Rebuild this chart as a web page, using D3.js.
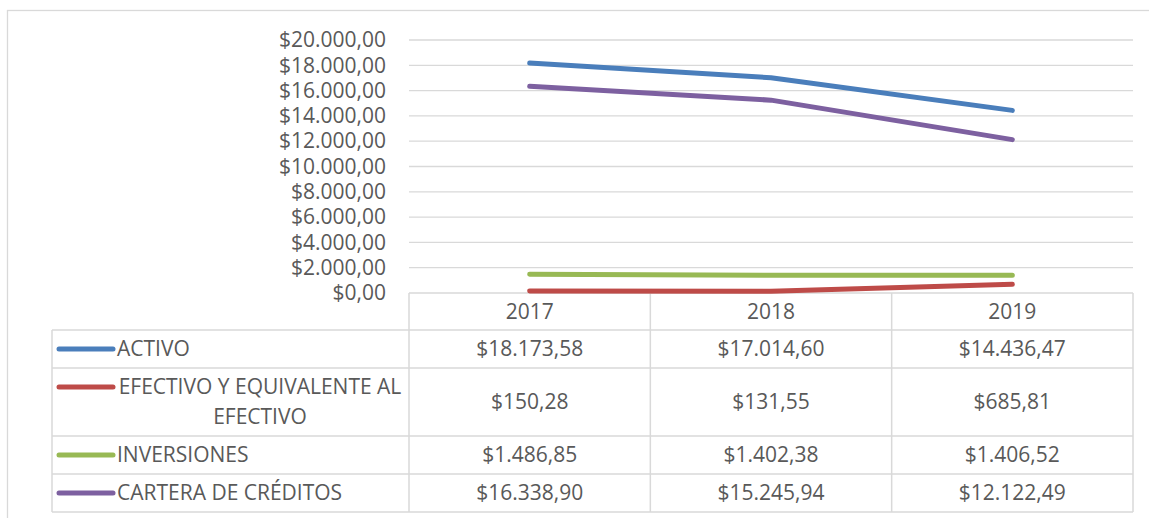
<!DOCTYPE html>
<html>
<head>
<meta charset="utf-8">
<script src="https://cdn.jsdelivr.net/npm/d3@7"></script>
<style>
  body { margin: 0; background: #fff; }
  svg { display: block; }
</style>
</head>
<body>
<div id="chart"></div>
<script>
const years = ['2017', '2018', '2019'];
const seriesNames = ['ACTIVO', 'EFECTIVO Y EQUIVALENTE AL EFECTIVO', 'INVERSIONES', 'CARTERA DE CRÉDITOS'];
const activo = [18173.58, 17014.60, 14436.47];
const efectivo = [150.28, 131.55, 685.81];
const inversiones = [1486.85, 1402.38, 1406.52];
const cartera = [16338.90, 15245.94, 12122.49];
const yTicks = [0, 2000, 4000, 6000, 8000, 10000, 12000, 14000, 16000, 18000, 20000];
const colors = ['#4a7ebb', '#be4b48', '#98b954', '#7d60a0'];

const data = seriesNames.map((name, i) => ({
  name,
  values: [activo, efectivo, inversiones, cartera][i]
}));

const W = 1149, H = 518;
const plot = { left: 409, right: 1133, top: 40, bottom: 293 };
const tableLeft = 52;
const rowBottoms = [330, 368, 436, 474, 512];
const font = '"Open Sans", sans-serif';
const fontSize = 21;
const textColor = '#595959';
const gridColor = '#d9d9d9';

// formats like 18.173,58
const locale = d3.formatLocale({ decimal: ',', thousands: '.', grouping: [3], currency: ['$', ''] });
const money = locale.format('$,.2f');

const svg = d3.select('#chart').append('svg')
  .attr('width', W)
  .attr('height', H);

// outer frame (cut by the picture edge on the right and bottom)
svg.append('rect')
  .attr('x', 7.5).attr('y', 10.5)
  .attr('width', W + 20).attr('height', H + 20)
  .attr('fill', 'none')
  .attr('stroke', gridColor)
  .attr('stroke-width', 1.3);

const x = d3.scaleBand()
  .domain(years)
  .range([plot.left, plot.right])
  .padding(0);

const y = d3.scaleLinear()
  .domain([0, 20000])
  .range([plot.bottom, plot.top]);

const yAxis = d3.axisLeft(y)
  .tickValues(yTicks)
  .tickSize(0)
  .tickPadding(23)
  .tickFormat(money);

svg.append('g')
  .attr('transform', `translate(${plot.left},0)`)
  .call(yAxis)
  .call(g => g.select('.domain').remove())
  .call(g => g.selectAll('text')
    .attr('fill', textColor)
    .attr('font-family', font)
    .attr('font-size', fontSize));

// gridlines
svg.append('g')
  .selectAll('line')
  .data(yTicks.filter(d => d > 0))
  .join('line')
  .attr('x1', plot.left)
  .attr('x2', plot.right)
  .attr('y1', d => y(d))
  .attr('y2', d => y(d))
  .attr('stroke', gridColor)
  .attr('stroke-width', 1.3);

// data table
const table = svg.append('g');
const rowTops = [plot.bottom].concat(rowBottoms.slice(0, -1));

table.selectAll('.hline')
  .data([plot.bottom].concat(rowBottoms))
  .join('line')
  .attr('x1', (d, i) => i === 0 ? plot.left : tableLeft)
  .attr('x2', plot.right)
  .attr('y1', d => d)
  .attr('y2', d => d)
  .attr('stroke', gridColor)
  .attr('stroke-width', 1.5);

table.selectAll('.vline')
  .data([tableLeft].concat(years.map(d => x(d)), [plot.right]))
  .join('line')
  .attr('x1', d => d)
  .attr('x2', d => d)
  .attr('y1', d => d === tableLeft ? rowBottoms[0] : plot.bottom)
  .attr('y2', rowBottoms[rowBottoms.length - 1])
  .attr('stroke', gridColor)
  .attr('stroke-width', 1.5);

table.selectAll('.year')
  .data(years)
  .join('text')
  .attr('x', d => x(d) + x.bandwidth() / 2)
  .attr('y', (rowTops[0] + rowBottoms[0]) / 2)
  .attr('dy', '0.35em')
  .attr('text-anchor', 'middle')
  .attr('fill', textColor)
  .attr('font-family', font)
  .attr('font-size', fontSize)
  .text(d => d);

const lineGap = 30;
const rows = table.selectAll('.row')
  .data(data)
  .join('g')
  .attr('transform', (d, i) => `translate(0,${(rowTops[i + 1] + rowBottoms[i + 1]) / 2})`);

rows.each(function(d, i) {
  const lines = d.name.length > 25 ? ['EFECTIVO Y EQUIVALENTE AL', 'EFECTIVO'] : [d.name];
  const firstY = -(lines.length - 1) / 2 * lineGap;
  const row = d3.select(this);

  row.append('line')
    .attr('x1', 59)
    .attr('x2', 113)
    .attr('y1', firstY)
    .attr('y2', firstY)
    .attr('stroke', colors[i])
    .attr('stroke-width', 5)
    .attr('stroke-linecap', 'round');

  row.append('text')
    .attr('fill', textColor)
    .attr('font-family', font)
    .attr('font-size', fontSize)
    .attr('text-anchor', lines.length > 1 ? 'middle' : 'start')
    .selectAll('tspan')
    .data(lines)
    .join('tspan')
    .attr('x', lines.length > 1 ? 260 : 117)
    .attr('y', (l, j) => firstY + j * lineGap)
    .attr('dy', '0.35em')
    .text(l => l);
});

rows.selectAll('.val')
  .data(d => d.values)
  .join('text')
  .attr('x', (v, j) => x(years[j]) + x.bandwidth() / 2)
  .attr('dy', '0.35em')
  .attr('text-anchor', 'middle')
  .attr('fill', textColor)
  .attr('font-family', font)
  .attr('font-size', fontSize)
  .text(v => money(v));

// series lines
const line = d3.line()
  .x((v, j) => x(years[j]) + x.bandwidth() / 2)
  .y(v => y(v));

svg.append('g')
  .selectAll('path')
  .data(data)
  .join('path')
  .attr('d', d => line(d.values))
  .attr('fill', 'none')
  .attr('stroke', (d, i) => colors[i])
  .attr('stroke-width', 5)
  .attr('stroke-linecap', 'round')
  .attr('stroke-linejoin', 'round');
</script>
</body>
</html>
